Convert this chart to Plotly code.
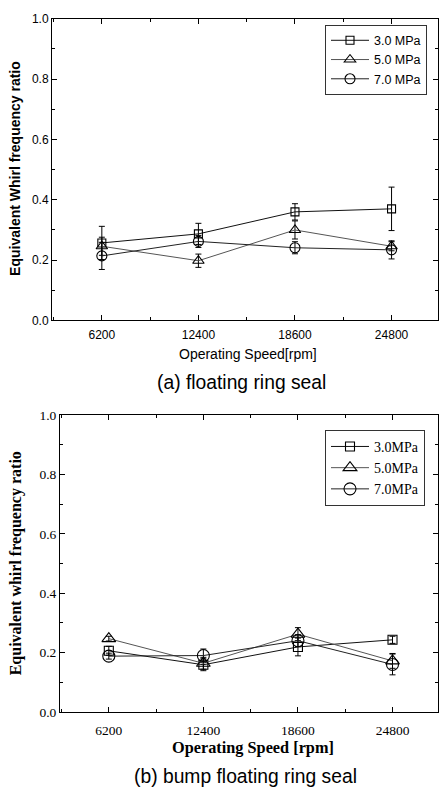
import plotly.graph_objects as go

# Operating speeds (rpm)
speeds = [6200, 12400, 18600, 24800]
pressures = ["3.0 MPa", "5.0 MPa", "7.0 MPa"]
pressures_b = ["3.0MPa", "5.0MPa", "7.0MPa"]

# (a) floating ring seal: whirl frequency ratio and error half-widths
ring_30 = [0.257, 0.287, 0.360, 0.370]
ring_30_err = [0.055, 0.035, 0.027, 0.072]
ring_50 = [0.246, 0.198, 0.300, 0.246]
ring_50_err = [0.030, 0.022, 0.030, 0.015]
ring_70 = [0.214, 0.262, 0.241, 0.234]
ring_70_err = [0.045, 0.020, 0.020, 0.030]

# (b) bump floating ring seal
bump_30 = [0.206, 0.159, 0.219, 0.243]
bump_30_err = [0.015, 0.020, 0.030, 0.012]
bump_50 = [0.247, 0.164, 0.262, 0.172]
bump_50_err = [0.008, 0.020, 0.022, 0.025]
bump_70 = [0.188, 0.190, 0.240, 0.160]
bump_70_err = [0.010, 0.022, 0.020, 0.035]

symbols = ["square-open", "triangle-up-open", "circle-open"]
sizes_a = [8, 10, 10]
sizes_b = [9, 12, 12]
line_colors = ["#111111", "#555555", "#222222"]
INK = "#000000"

fig = go.Figure()

ring = [(ring_30, ring_30_err), (ring_50, ring_50_err), (ring_70, ring_70_err)]
bump = [(bump_30, bump_30_err), (bump_50, bump_50_err), (bump_70, bump_70_err)]

for i, (vals, errs) in enumerate(ring):
    fig.add_trace(go.Scatter(
        x=speeds, y=vals, name=pressures[i], mode="lines+markers",
        xaxis="x", yaxis="y", legend="legend",
        line=dict(color=line_colors[i], width=1),
        marker=dict(symbol=symbols[i], size=sizes_a[i], color=INK,
                    line=dict(width=1.1, color=INK)),
        error_y=dict(type="data", array=errs, visible=True,
                     color=INK, thickness=1, width=3),
    ))

for i, (vals, errs) in enumerate(bump):
    fig.add_trace(go.Scatter(
        x=speeds, y=vals, name=pressures_b[i], mode="lines+markers",
        xaxis="x2", yaxis="y2", legend="legend2",
        line=dict(color=line_colors[i], width=1),
        marker=dict(symbol=symbols[i], size=sizes_b[i], color=INK,
                    line=dict(width=1.1, color=INK)),
        error_y=dict(type="data", array=errs, visible=True,
                     color=INK, thickness=1, width=3),
    ))

sans = "Liberation Sans, Arial, sans-serif"
serif = "Liberation Serif, Times New Roman, serif"

def xaxis(domain, anchor, font, size, standoff):
    return dict(
        domain=domain, anchor=anchor, range=[3000, 27750],
        tickmode="array", tickvals=speeds, ticktext=[str(s) for s in speeds],
        ticks="inside", ticklen=5, tickwidth=1, tickcolor=INK,
        minor=dict(ticks="inside", ticklen=3, tick0=0, dtick=3100, tickcolor=INK),
        showline=True, linecolor=INK, linewidth=1, mirror="ticks",
        showgrid=False, zeroline=False, ticklabelstandoff=standoff,
        tickfont=dict(family=font, size=size, color=INK),
    )

def yaxis(domain, anchor, font, size):
    return dict(
        domain=domain, anchor=anchor, range=[0, 1.0],
        tickmode="linear", tick0=0, dtick=0.2, tickformat=".1f",
        ticks="inside", ticklen=5, tickwidth=1, tickcolor=INK,
        minor=dict(ticks="inside", ticklen=3, dtick=0.1, tickcolor=INK),
        showline=True, linecolor=INK, linewidth=1, mirror="ticks",
        showgrid=False, zeroline=False,
        tickfont=dict(family=font, size=size, color=INK),
    )

def label(text, x, y, family, size, angle=0):
    return dict(text=text, x=x / 439, y=1 - y / 795, xref="paper", yref="paper",
                showarrow=False, textangle=angle, xanchor="center", yanchor="middle",
                font=dict(family=family, size=size, color=INK))

fig.update_layout(
    width=439, height=795,
    margin=dict(l=0, r=0, t=0, b=0),
    paper_bgcolor="white", plot_bgcolor="white",
    showlegend=True,
    xaxis=xaxis([52 / 439, 437.5 / 439], "y", sans, 12, 3),
    yaxis=yaxis([1 - 319.5 / 795, 1 - 12 / 795], "x", sans, 12),
    xaxis2=xaxis([60 / 439, 437.5 / 439], "y2", serif, 13.5, 6),
    yaxis2=yaxis([1 - 718.5 / 795, 1 - 416 / 795], "x2", serif, 13.5),
    legend=dict(x=427 / 439, y=1 - 18 / 795, xanchor="right", yanchor="top",
                bgcolor="white", bordercolor="#333", borderwidth=1,
                font=dict(family=sans, size=12.5, color=INK),
                tracegroupgap=0, itemwidth=38),
    legend2=dict(x=425 / 439, y=1 - 431 / 795, xanchor="right", yanchor="top",
                 bgcolor="white", bordercolor="#333", borderwidth=1,
                 font=dict(family=serif, size=14, color=INK),
                 tracegroupgap=0, itemwidth=38),
    annotations=[
        label("<b>Equivalent Whirl frequency ratio</b>", 15, 165, sans, 14, -90),
        label("Operating Speed[rpm]", 248, 354, sans, 14),
        label("(a) floating ring seal", 241, 383, sans, 19.3),
        label("<b>Equivalent whirl frequency ratio</b>", 16, 567, serif, 16, -90),
        label("<b>Operating Speed [rpm]</b>", 253, 755, serif, 16.3),
        label("(b) bump floating ring seal", 245, 784, sans, 19.3),
    ],
)

fig.write_html("out.html")
